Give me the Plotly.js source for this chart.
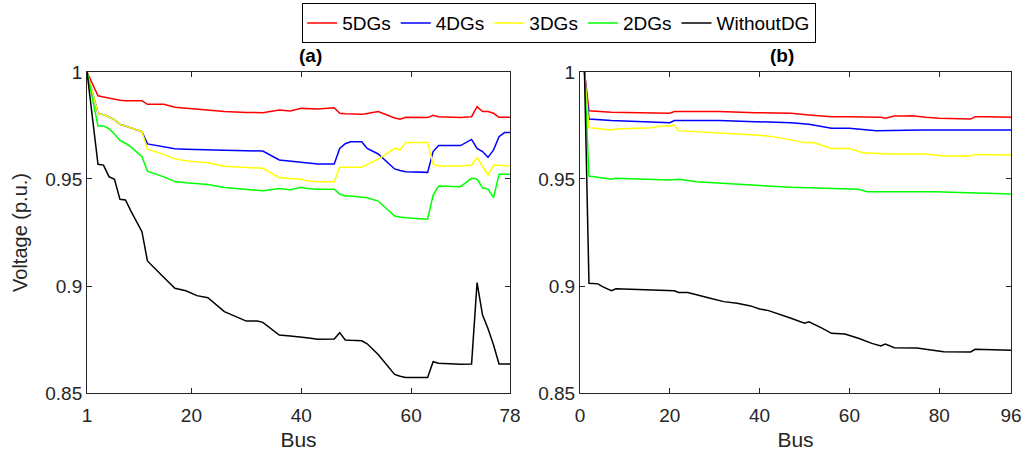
<!DOCTYPE html>
<html>
<head>
<meta charset="utf-8">
<script src="https://cdn.plot.ly/plotly-3.0.1.min.js"></script>
<style>html,body{margin:0;padding:0;background:#fff;}#chart{width:1026px;height:458px;}</style>
</head>
<body>
<div id="chart"></div>
<script>
// ---------- Panel (a): 78-bus system ----------
const busA = [1,3,4,5,6,7,8,9,11,12,15,17,19,21,23,26,30,32,33,36,38,40,41,43,46,47,48,49,51,52,54,57,58,59,63,64,65,69,71,72,73,74,75,76,77,78];
const a5DGs = [1.0,.9889,.9883,.9877,.9872,.9868,.9866,.9866,.9866,.9849,.9849,.9835,.9830,.9827,.9822,.9815,.9811,.9810,.9810,.9822,.9818,.9830,.9828,.9827,.9833,.9807,.9805,.9803,.9802,.9806,.9815,.9785,.9779,.9788,.9787,.9798,.9791,.9787,.9791,.9838,.9815,.9815,.9807,.9788,.9788,.9788];
const a4DGs = [1.0,.9807,.9800,.9791,.9776,.9755,.9748,.9740,.9721,.9664,.9650,.9641,.9639,.9637,.9636,.9634,.9632,.9631,.9631,.9589,.9584,.9581,.9575,.9570,.9570,.9643,.9665,.9674,.9674,.9643,.9617,.9547,.9540,.9534,.9531,.9628,.9656,.9656,.9685,.9643,.9628,.9601,.9636,.9698,.9717,.9717];
const a3DGs = [1.0,.9807,.9800,.9791,.9776,.9755,.9748,.9740,.9721,.9639,.9615,.9594,.9585,.9580,.9576,.9560,.9553,.9551,.9550,.9506,.9503,.9499,.9492,.9487,.9487,.9555,.9555,.9555,.9555,.9568,.9593,.9643,.9636,.9671,.9671,.9569,.9561,.9561,.9565,.9600,.9561,.9519,.9565,.9563,.9561,.9561];
const a2DGs = [1.0,.9748,.9748,.9735,.9710,.9680,.9667,.9650,.9604,.9537,.9510,.9488,.9482,.9478,.9474,.9460,.9450,.9446,.9445,.9456,.9450,.9461,.9456,.9452,.9452,.9430,.9421,.9420,.9417,.9412,.9397,.9327,.9322,.9319,.9312,.9425,.9467,.9464,.9503,.9500,.9459,.9453,.9413,.9522,.9522,.9522];
const aWithoutDG = [1.0,.9569,.9565,.9511,.9499,.9405,.9402,.9350,.9254,.9117,.9040,.8989,.8978,.8955,.8945,.8880,.8836,.8836,.8830,.8771,.8766,.8763,.8758,.8751,.8752,.8782,.8748,.8746,.8744,.8730,.8680,.8587,.8578,.8573,.8572,.8646,.8639,.8634,.8636,.9016,.8864,.8800,.8724,.8636,.8636,.8636];

// ---------- Panel (b): 96-bus system ----------
const busB5 = [1,2,7,16,20,21,31,39,44,47,51,56,60,67,68,70,72,74,77,80,87,88,91,96];
const b5DGs = [1.0,.9819,.9812,.9807,.9807,.9815,.9815,.9810,.9810,.9807,.9799,.9791,.9791,.9788,.9784,.9794,.9794,.9796,.9788,.9784,.9780,.9791,.9791,.9788];
const busB4 = [1,2,7,20,21,31,39,47,51,56,60,66,76,87,96];
const b4DGs = [1.0,.9780,.9773,.9763,.9773,.9773,.9768,.9763,.9756,.9737,.9737,.9726,.9729,.9729,.9729];
const busB3 = [1,2,7,8,16,18,20,21,22,31,39,43,47,50,52,56,60,63,69,77,81,87,88,96];
const b3DGs = [1.0,.9740,.9729,.9734,.9740,.9748,.9748,.9752,.9726,.9717,.9706,.9698,.9682,.9670,.9670,.9643,.9643,.9623,.9617,.9617,.9607,.9607,.9615,.9612];
const busB2 = [1,2,7,8,20,22,26,39,47,62,64,79,96];
const b2DGs = [1.0,.9514,.9499,.9503,.9495,.9499,.9487,.9472,.9461,.9452,.9441,.9441,.9430];
const busB0 = [1,2,4,5,7,8,21,22,24,26,29,32,35,38,40,42,44,47,50,51,54,56,59,62,65,67,68,70,75,81,87,88,96];
const bWithoutDG = [1.0,.9013,.9010,.8997,.8978,.8987,.8978,.8970,.8970,.8958,.8943,.8927,.8919,.8907,.8893,.8885,.8872,.8849,.8826,.8833,.8802,.8779,.8776,.8756,.8732,.8720,.8729,.8712,.8710,.8693,.8692,.8704,.8700];

const seriesNames = ['5DGs','4DGs','3DGs','2DGs','WithoutDG'];
const seriesColors = ['#ff0000','#0000ff','#ffff00','#00ff00','#000000'];

const yTickVals = [0.85,0.9,0.95,1];
const yTickText = ['0.85','0.9','0.95','1'];
const xTickValsA = [1,20,40,60,78];
const xTickValsB = [0,20,40,60,80,96];

const aData = [a5DGs,a4DGs,a3DGs,a2DGs,aWithoutDG];
const bX = [busB5,busB4,busB3,busB2,busB0];
const bData = [b5DGs,b4DGs,b3DGs,b2DGs,bWithoutDG];

const traces = [];
for (let i = 0; i < seriesNames.length; i++) {
  traces.push({x: busA, y: aData[i], type:'scatter', mode:'lines', name: seriesNames[i],
    line:{color: seriesColors[i], width:1.5}, xaxis:'x', yaxis:'y', legendgroup: seriesNames[i]});
}
for (let i = 0; i < seriesNames.length; i++) {
  traces.push({x: bX[i], y: bData[i], type:'scatter', mode:'lines', name: seriesNames[i],
    line:{color: seriesColors[i], width:1.5}, xaxis:'x2', yaxis:'y2', legendgroup: seriesNames[i], showlegend:false});
}

const FONT = 'Liberation Sans, Arial, sans-serif';
const axisCommon = {
  showgrid:false, zeroline:false, showline:true, linecolor:'#262626', linewidth:1,
  mirror:'allticks', ticks:'inside', ticklen:5, tickcolor:'#262626',
  tickfont:{family:FONT, size:19, color:'#262626'}
};

const layout = {
  width:1026, height:458,
  margin:{l:0, r:0, t:0, b:0},
  paper_bgcolor:'#ffffff', plot_bgcolor:'#ffffff',
  font:{family:FONT, color:'#000'},
  showlegend:true,
  legend:{orientation:'h', x:0.545, xanchor:'center', y:0.993, yanchor:'top',
    bordercolor:'#000', borderwidth:1, font:{family:FONT, size:19, color:'#000'},
    itemwidth:30, tracegroupgap:0},
  xaxis: Object.assign({}, axisCommon, {domain:[0.0848,0.4971], range:[1,78], tickvals:xTickValsA, anchor:'y',
    ticklabelstandoff:5,
    title:{text:'Bus', font:{family:FONT, size:21, color:'#262626'}, standoff:7}}),
  yaxis: Object.assign({}, axisCommon, {domain:[0.1419,0.8428], range:[0.85,1], tickvals:yTickVals, ticktext:yTickText, anchor:'x',
    title:{text:'Voltage (p.u.)', font:{family:FONT, size:20, color:'#262626'}, standoff:12}}),
  xaxis2: Object.assign({}, axisCommon, {domain:[0.5653,0.9854], range:[0,96], tickvals:xTickValsB, anchor:'y2',
    ticklabelstandoff:5,
    title:{text:'Bus', font:{family:FONT, size:21, color:'#262626'}, standoff:7}}),
  yaxis2: Object.assign({}, axisCommon, {domain:[0.1419,0.8428], range:[0.85,1], tickvals:yTickVals, ticktext:yTickText, anchor:'x2'}),
  annotations:[
    {text:'<b>(a)</b>', xref:'paper', yref:'paper', x:297/1026, y:1-55/458, yanchor:'middle', showarrow:false, font:{family:FONT, size:19, color:'#000'}},
    {text:'<b>(b)</b>', xref:'paper', yref:'paper', x:796/1026, y:1-55/458, yanchor:'middle', showarrow:false, font:{family:FONT, size:19, color:'#000'}}
  ]
};

Plotly.newPlot('chart', traces, layout, {displayModeBar:false, staticPlot:true});
</script>
</body>
</html>
